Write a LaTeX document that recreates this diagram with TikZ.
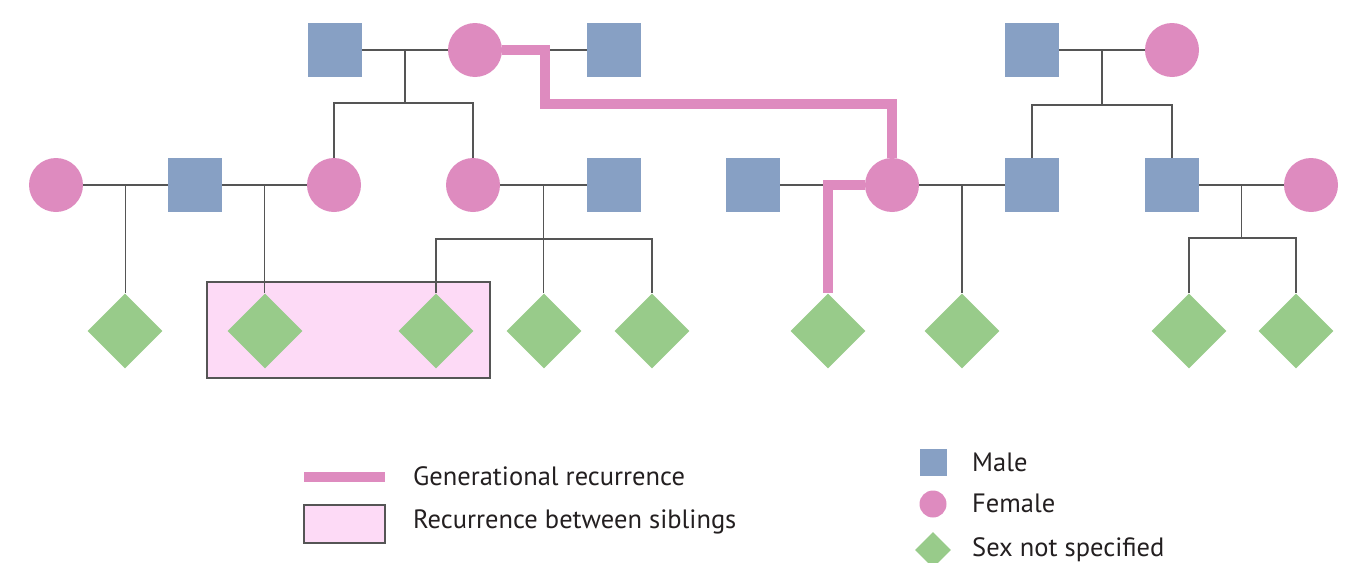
\documentclass[tikz,border=0pt]{standalone}
\usepackage{fontspec}
\setmainfont{PT Sans}
\usetikzlibrary{shapes.geometric,calc}
\definecolor{maleblue}{HTML}{87A0C4}
\definecolor{femalepink}{HTML}{DE8BBF}
\definecolor{unkgreen}{HTML}{98CB8A}
\definecolor{sibfill}{HTML}{FDDAF6}
\definecolor{linegray}{HTML}{555555}
\definecolor{textblack}{HTML}{231F20}
\tikzset{
  male/.style={rectangle, fill=maleblue, minimum size=54pt, inner sep=0pt},
  female/.style={circle, fill=femalepink, minimum size=54pt, inner sep=0pt},
  unknown/.style={diamond, fill=unkgreen, minimum width=75pt, minimum height=75pt, inner sep=0pt},
  link/.style={draw=linegray, line width=1.5pt},
  recur/.style={draw=femalepink, line width=10pt},
  sibbox/.style={draw=linegray, fill=sibfill, line width=1.2pt},
  legtext/.style={font=\fontsize{26.5}{31}\selectfont, text=textblack, anchor=west, inner sep=0pt}
}

\begin{document}
\begin{tikzpicture}[x=1pt, y=-1pt]
  \useasboundingbox (0,0) rectangle (1364,562);

  % Recurrence between siblings
  \draw[sibbox] (207,282) rectangle (490,378);

  % First generation
  \node[male]   (A) at (335,50) {};
  \node[female] (B) at (475,50) {};
  \node[male]   (C) at (614,50) {};
  \node[male]   (D) at (1032,50) {};
  \node[female] (E) at (1172,50) {};

  % Second generation
  \node[female] (F) at (56,185) {};
  \node[male]   (G) at (195,185) {};
  \node[female] (H) at (334,185) {};
  \node[female] (I) at (473,185) {};
  \node[male]   (J) at (614,185) {};
  \node[male]   (K) at (753,185) {};
  \node[female] (L) at (892,185) {};
  \node[male]   (M) at (1032,185) {};
  \node[male]   (N) at (1172,185) {};
  \node[female] (O) at (1311,185) {};

  % Third generation
  \node[unknown] (P1) at (125,331) {};
  \node[unknown] (P2) at (265,331) {};
  \node[unknown] (P3) at (436,331) {};
  \node[unknown] (P4) at (544,331) {};
  \node[unknown] (P5) at (652,331) {};
  \node[unknown] (P6) at (828,331) {};
  \node[unknown] (P7) at (962,331) {};
  \node[unknown] (P8) at (1189,331) {};
  \node[unknown] (P9) at (1296,331) {};

  % Couples and children
  \coordinate (ab) at ($(A)!.5!(B)$);
  \coordinate (de) at ($(D)!.5!(E)$);
  \coordinate (fg) at ($(F)!.5!(G)$);
  \coordinate (gh) at ($(G)!.5!(H)$);
  \coordinate (ij) at ($(I)!.5!(J)$);
  \coordinate (lm) at ($(L)!.5!(M)$);
  \coordinate (no) at ($(N)!.5!(O)$);
  \coordinate (s1) at ($(ab)+(0,53)$);
  \coordinate (s2) at ($(de)+(0,55)$);
  \coordinate (s3) at ($(ij)+(0,54)$);
  \coordinate (s4) at ($(no)+(0,53)$);

  \draw[link] (A) -- (B);
  \draw[link] (B) -- (C);
  \draw[link] (D) -- (E);
  \draw[link] (ab) -- (s1);
  \draw[link] (H.north) |- (s1) -| (I.north);
  \draw[link] (de) -- (s2);
  \draw[link] (M.north) |- (s2) -| (N.north);

  \draw[link] (F) -- (G);
  \draw[link] (G) -- (H);
  \draw[link] (I) -- (J);
  \draw[link] (K) -- (L);
  \draw[link] (L) -- (M);
  \draw[link] (N) -- (O);
  \draw[link] (fg) -- (fg |- P1.north);
  \draw[link] (gh) -- (gh |- P2.north);
  \draw[link] (ij) -- (ij |- P4.north);
  \draw[link] (P3.north) |- (s3) -| (P5.north);
  \draw[link] (lm) -- (lm |- P7.north);
  \draw[link] (no) -- (s4);
  \draw[link] (P8.north) |- (s4) -| (P9.north);

  % Generational recurrence
  \coordinate (g1) at (545,104);
  \draw[recur] (B.east) -| (g1) -| (L.north);
  \draw[recur] (L.west) -| (P6.north);

  % Legend
  \coordinate (lg1) at (304,477);
  \coordinate (lg2) at (385,477);
  \draw[recur] (lg1) -- (lg2);
  \node[legtext] (t1) at (413,476) {Generational recurrence};
  \node[sibbox, minimum width=81pt, minimum height=38pt, inner sep=0pt] (legbox) at (344.5,524) {};
  \node[legtext] (t2) at (413,522) {Recurrence between siblings};

  \node[male, minimum size=27pt] (legm) at (933,462) {};
  \node[female, minimum size=27pt] (legf) at (933,504) {};
  \node[unknown, minimum width=36pt, minimum height=36pt] (legu) at (933,550) {};
  \node[legtext] (t3) at (972,462) {Male};
  \node[legtext] (t4) at (972,503) {Female};
  \node[legtext] (t5) at (972,550) {Sex not specified};
\end{tikzpicture}
\end{document}
